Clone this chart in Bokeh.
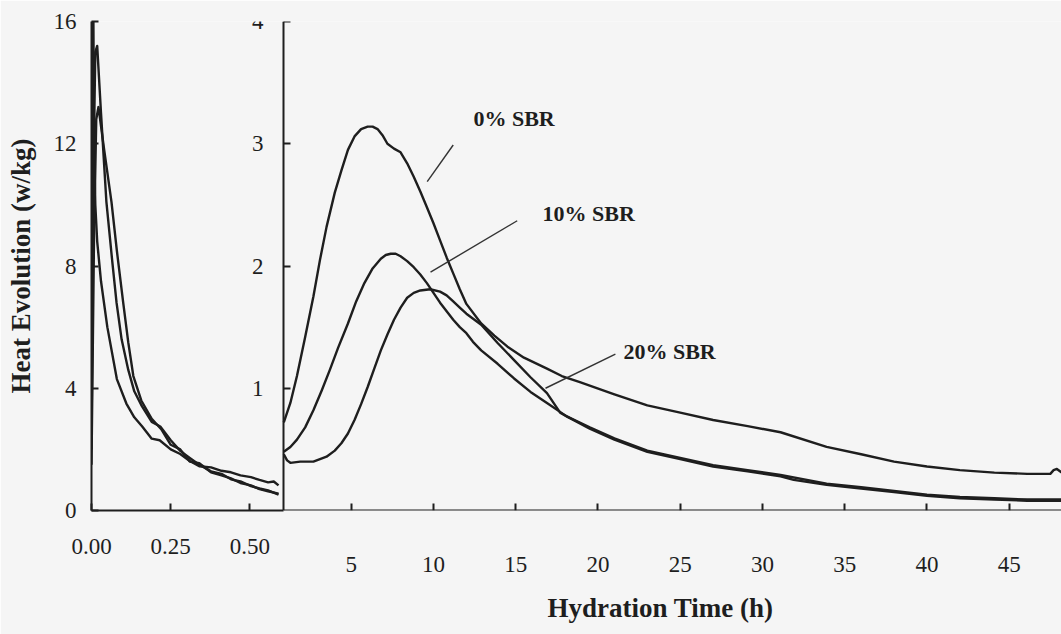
from bokeh.plotting import figure
from bokeh.models import Range1d, LinearAxis, FixedTicker, NumeralTickFormatter, Title
from bokeh.embed import file_html
from bokeh.resources import INLINE
from bokeh.core.properties import value

# ---------------- data ----------------
series_labels = ["0% SBR", "10% SBR", "20% SBR"]

# early period (left panel), time in h, heat in W/kg
early_time_0 = [0.0, 0.002, 0.004, 0.006, 0.008, 0.012, 0.018, 0.03, 0.05, 0.08, 0.11, 0.135,
                0.16, 0.19, 0.215, 0.25, 0.28, 0.31, 0.34, 0.377, 0.41, 0.44, 0.47, 0.503,
                0.53, 0.557, 0.575, 0.59]
early_heat_0 = [3.0, 12.0, 16.0, 16.0, 12.0, 10.0, 8.8, 7.5, 6.0, 4.3, 3.5, 3.05,
                2.75, 2.35, 2.3, 2.0, 1.85, 1.62, 1.45, 1.41, 1.3, 1.25, 1.15, 1.09,
                1.0, 0.92, 0.95, 0.82]

early_time_10 = [0.0, 0.006, 0.012, 0.018, 0.03, 0.047, 0.065, 0.079, 0.095, 0.116, 0.135,
                 0.157, 0.19, 0.217, 0.25, 0.28, 0.31, 0.34, 0.377, 0.41, 0.44, 0.47,
                 0.503, 0.53, 0.557, 0.59]
early_heat_10 = [2.0, 11.0, 15.0, 15.2, 13.0, 10.1, 8.2, 6.8, 5.6, 4.6, 3.9,
                 3.45, 2.9, 2.75, 2.3, 1.95, 1.72, 1.5, 1.28, 1.2, 1.02, 0.95,
                 0.8, 0.72, 0.66, 0.52]

early_time_20 = [0.0, 0.008, 0.015, 0.022, 0.04, 0.063, 0.08, 0.10, 0.116, 0.132, 0.157,
                 0.19, 0.22, 0.25, 0.28, 0.31, 0.34, 0.377, 0.41, 0.44, 0.47, 0.503,
                 0.53, 0.557, 0.59]
early_heat_20 = [1.5, 9.0, 12.8, 13.2, 11.8, 10.1, 8.5, 6.8, 5.5, 4.4, 3.6,
                 3.0, 2.66, 2.15, 2.0, 1.6, 1.55, 1.25, 1.15, 1.05, 0.9, 0.82,
                 0.7, 0.63, 0.55]

# main period (right panel)
time_0 = [0.9, 1.3, 1.7, 2.2, 2.7, 3.1, 3.5, 4.0, 4.4, 4.8, 5.2, 5.6, 6.0, 6.3, 6.6, 6.9,
          7.2, 7.6, 8.0, 8.4, 8.8, 9.2, 9.6, 10.0, 10.4, 10.8, 11.2, 11.6, 12.0, 12.9,
          13.7, 14.5, 15.5, 16.9, 17.8, 18.9, 21.0, 23.0, 25.0, 27.0, 29.1, 31.1, 33.9,
          36.0, 38.0, 40.0, 42.0, 44.1, 46.1, 47.5, 47.7, 47.9, 48.2]
heat_0 = [0.72, 0.88, 1.10, 1.42, 1.75, 2.05, 2.32, 2.60, 2.78, 2.95, 3.06, 3.12, 3.14,
          3.14, 3.12, 3.07, 3.00, 2.96, 2.93, 2.84, 2.73, 2.61, 2.48, 2.35, 2.21, 2.07,
          1.94, 1.81, 1.69, 1.53, 1.43, 1.34, 1.25, 1.16, 1.10, 1.05, 0.95, 0.86, 0.80,
          0.74, 0.69, 0.64, 0.52, 0.46, 0.40, 0.36, 0.33, 0.31, 0.30, 0.30, 0.33, 0.34,
          0.31]

time_10 = [0.9, 1.3, 1.7, 2.2, 2.7, 3.2, 3.7, 4.2, 4.8, 5.3, 5.8, 6.3, 6.8, 7.1, 7.4, 7.7,
           8.0, 8.4, 8.8, 9.2, 9.6, 10.0, 10.4, 10.8, 11.2, 11.6, 12.0, 12.4, 12.9, 13.9,
           14.9, 15.9, 16.9, 18.1, 19.5, 21.0, 23.0, 25.0, 27.0, 29.1, 31.1, 31.9, 33.9,
           36.0, 38.0, 40.0, 42.0, 44.1, 46.1, 48.2]
heat_10 = [0.48, 0.52, 0.58, 0.68, 0.82, 0.98, 1.15, 1.33, 1.53, 1.71, 1.86, 1.98, 2.06,
           2.09, 2.10, 2.10, 2.08, 2.04, 1.99, 1.93, 1.86, 1.78, 1.70, 1.63, 1.56, 1.50,
           1.45, 1.38, 1.31, 1.20, 1.08, 0.97, 0.88, 0.77, 0.67, 0.58, 0.48, 0.42, 0.36,
           0.32, 0.28, 0.25, 0.21, 0.18, 0.15, 0.12, 0.10, 0.09, 0.08, 0.08]

time_20 = [0.9, 1.1, 1.3, 1.9, 2.7, 3.1, 3.5, 4.0, 4.4, 4.8, 5.2, 5.6, 6.0, 6.4, 6.8, 7.2,
           7.6, 8.0, 8.4, 8.8, 9.2, 9.8, 10.4, 10.8, 11.2, 11.6, 12.0, 12.9, 13.9, 14.9,
           15.9, 16.9, 17.3, 17.7, 18.1, 19.5, 21.0, 23.0, 25.0, 27.0, 29.1, 31.1, 33.9,
           36.0, 38.0, 40.0, 42.0, 44.1, 46.1, 48.2]
heat_20 = [0.46, 0.41, 0.39, 0.40, 0.40, 0.42, 0.44, 0.49, 0.55, 0.63, 0.74, 0.87, 1.01,
           1.16, 1.31, 1.44, 1.56, 1.66, 1.74, 1.78, 1.80, 1.81, 1.79, 1.76, 1.71, 1.66,
           1.61, 1.52, 1.37, 1.23, 1.09, 0.96, 0.88, 0.80, 0.77, 0.68, 0.59, 0.49, 0.43,
           0.37, 0.33, 0.29, 0.22, 0.19, 0.16, 0.13, 0.11, 0.10, 0.09, 0.09]

left_x_ticks = [0.0, 0.25, 0.5]
left_y_ticks = [0, 4, 8, 12, 16]
right_x_ticks = [5, 10, 15, 20, 25, 30, 35, 40, 45]
right_y_ticks = [1, 2, 3, 4]

x_title = "Hydration Time (h)"
y_title = "Heat Evolution (w/kg)"

# ---------------- layout / style ----------------
BG = "#f5f5f5"
INK = "#1e1e1e"
SERIF = "Liberation Serif"

RIGHT_X_START = -10.79   # main range (h) at left frame edge
RIGHT_X_END = 48.18
RIGHT_AXIS_AT = 0.88     # where the right panel's y axis stands
LEFT_X_END = 3.06
LEFT_PANEL_END = 0.607

label_pos = {"0% SBR": (12.43, 3.21), "10% SBR": (16.63, 2.43), "20% SBR": (21.55, 1.30)}
pointer = {"0% SBR": (11.20, 2.99, 9.62, 2.69),
           "10% SBR": (15.09, 2.37, 9.82, 1.95),
           "20% SBR": (21.06, 1.28, 16.81, 1.00)}

p = figure(frame_width=970, frame_height=489,
           x_range=Range1d(RIGHT_X_START, RIGHT_X_END), y_range=Range1d(0, 4),
           x_axis_location=None, y_axis_location=None,
           output_backend="svg", toolbar_location=None,
           min_border_left=91, min_border_right=0, min_border_top=21, min_border_bottom=124,
           background_fill_color=BG, border_fill_color=BG, outline_line_color=None)
p.grid.grid_line_color = None
p.extra_x_ranges = {"early": Range1d(0, LEFT_X_END)}
p.extra_y_ranges = {"early": Range1d(0, 16)}


def style_axis(ax, standoff):
    ax.axis_line_color = INK
    ax.axis_line_width = 2
    ax.major_tick_line_color = INK
    ax.major_tick_line_width = 2
    ax.major_tick_in = 7
    ax.major_tick_out = 0
    ax.minor_tick_line_color = None
    ax.major_label_text_font = SERIF
    ax.major_label_text_font_size = "23px"
    ax.major_label_text_color = INK
    ax.major_label_standoff = standoff
    ax.axis_label_text_font = SERIF
    ax.axis_label_text_font_style = "bold"
    ax.axis_label_text_font_size = "27px"
    ax.axis_label_text_color = INK


# left panel x axis: line, ticks and labels at the frame bottom
ax_lx = LinearAxis(x_range_name="early", ticker=FixedTicker(ticks=left_x_ticks),
                   formatter=NumeralTickFormatter(format="0.00"),
                   bounds=(0, LEFT_PANEL_END))
style_axis(ax_lx, 28)
p.add_layout(ax_lx, "below")

# right panel x tick labels (stacked below the left axis)
ax_rx_lab = LinearAxis(ticker=FixedTicker(ticks=right_x_ticks),
                       bounds=(RIGHT_AXIS_AT, RIGHT_X_END))
style_axis(ax_rx_lab, 0)
ax_rx_lab.axis_line_color = None
ax_rx_lab.major_tick_line_color = None
p.add_layout(ax_rx_lab, "below")

# right panel x axis line and ticks at the baseline
ax_rx = LinearAxis(ticker=FixedTicker(ticks=right_x_ticks),
                   bounds=(RIGHT_AXIS_AT, RIGHT_X_END), fixed_location=0)
style_axis(ax_rx, 0)
ax_rx.major_label_text_color = None
p.add_layout(ax_rx, "below")

# x title
p.add_layout(Title(text=x_title, align="left", offset=456, standoff=33,
                   text_font=SERIF, text_font_style="bold", text_font_size="27px",
                   text_color=INK), "below")

ax_ly = LinearAxis(y_range_name="early", ticker=FixedTicker(ticks=left_y_ticks),
                   bounds=(0, 16), axis_label=y_title)
style_axis(ax_ly, 15)
ax_ly.axis_label_standoff = 15
p.add_layout(ax_ly, "left")

ax_ry = LinearAxis(ticker=FixedTicker(ticks=right_y_ticks), bounds=(0, 4),
                   fixed_location=RIGHT_AXIS_AT)
style_axis(ax_ry, 20)
p.add_layout(ax_ry, "left")

# early curves
for tx, hy in [(early_time_0, early_heat_0), (early_time_10, early_heat_10),
               (early_time_20, early_heat_20)]:
    p.line(tx, hy, x_range_name="early", y_range_name="early",
           line_color=INK, line_width=2.4, line_join="round")

# main curves
for tx, hy in [(time_0, heat_0), (time_10, heat_10), (time_20, heat_20)]:
    p.line(tx, hy, line_color=INK, line_width=2.4, line_join="round")

# labels and pointer lines
p.segment(x0=[pointer[k][0] for k in series_labels], y0=[pointer[k][1] for k in series_labels],
          x1=[pointer[k][2] for k in series_labels], y1=[pointer[k][3] for k in series_labels],
          line_color="#333333", line_width=1.4)
p.text(x=[label_pos[k][0] for k in series_labels], y=[label_pos[k][1] for k in series_labels],
       text=series_labels, text_font=value(SERIF), text_font_style="bold",
       text_font_size="22px", text_color=INK, text_align="left", text_baseline="middle")

open("out.html", "w").write(file_html(p, INLINE))
